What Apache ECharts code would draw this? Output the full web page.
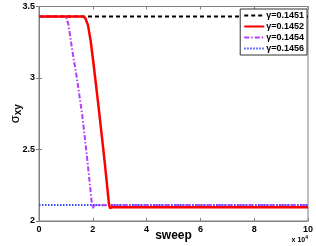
<!DOCTYPE html>
<html><head><meta charset="utf-8">
<script src="https://cdn.jsdelivr.net/npm/echarts@6/dist/echarts.min.js"></script>
<style>html,body{margin:0;padding:0;background:#fff}#c{width:316px;height:246px}</style>
</head><body><div id="c"></div>
<script>
// x in units of 10^4 sweeps
const names = ['γ=0.1451','γ=0.1452','γ=0.1454','γ=0.1456'];
const s1451 = [[0,3.43],[10,3.43]];
const s1452 = [[0,3.43],[1.62,3.43],[1.72,3.42],[1.82,3.37],[1.92,3.26],[2.02,3.11],[2.12,2.95],[2.22,2.79],[2.32,2.62],[2.42,2.45],[2.52,2.27],[2.6,2.12],[2.64,2.09],[2.72,2.097],[10,2.097]];
const s1454 = [[0,3.43],[1.0,3.43],[1.1,3.37],[1.2,3.24],[1.3,3.12],[1.4,3.01],[1.5,2.88],[1.6,2.75],[1.7,2.59],[1.8,2.42],[1.9,2.24],[1.97,2.11],[2.0,2.09],[2.05,2.11],[10,2.11]];
const s1456 = [[0,2.112],[10,2.112]];
const xTicks = [0,2,4,6,8,10];
const yTicks = [2,2.5,3,3.5];

const chart = echarts.init(document.getElementById('c'));
const FONT = '"Liberation Sans", Arial, sans-serif';
const grid = {left:39, right:8, top:6.5, bottom:25};
function series(name, data, color, type, width){
  return {name, type:'line', data, symbol:'none', showSymbol:false, animation:false,
    lineStyle:{color, type, width}, itemStyle:{color}, xAxisIndex:0, yAxisIndex:0};
}
chart.setOption({
  animation:false,
  grid: Object.assign({show:true, borderColor:'#808080', borderWidth:1, backgroundColor:'#fff', containLabel:false, outerBoundsMode:'none'}, grid),
  legend:{
    right:9, top:9, orient:'vertical', itemGap:2, itemWidth:20, itemHeight:10,
    backgroundColor:'#fff', borderColor:'#333', borderWidth:1, padding:[2,3,2,3],
    itemStyle:{opacity:0},
    textStyle:{fontFamily:FONT, fontSize:9, fontWeight:'bold', color:'#000', padding:[0,0,0,-3]},
    data:names
  },
  xAxis:[{
    type:'value', min:0, max:10, interval:2,
    name:'sweep', nameLocation:'middle', nameGap:9, nameMoveOverlap:false,
    nameTextStyle:{fontFamily:FONT, fontSize:12, fontWeight:'bold', color:'#000'},
    axisLine:{show:true, lineStyle:{color:'#808080'}},
    axisTick:{show:true, inside:true, length:3, lineStyle:{color:'#808080'}},
    axisLabel:{fontFamily:FONT, fontSize:9, fontWeight:'bold', color:'#000', margin:4,
      formatter:v=>xTicks.includes(v)?String(v):''},
    splitLine:{show:false}
  },{
    type:'value', min:0, max:10, interval:2, position:'top',
    axisLine:{show:true, lineStyle:{color:'#808080'}},
    axisTick:{show:true, inside:true, length:3, lineStyle:{color:'#808080'}},
    axisLabel:{show:false}, splitLine:{show:false}
  }],
  yAxis:[{
    type:'value', min:2, max:3.5, interval:0.5,
    name:'σ{sub|xy}', nameLocation:'middle', nameGap:16, nameRotate:90, nameMoveOverlap:false,
    nameTextStyle:{fontFamily:FONT, fontSize:13, color:'#000',
      rich:{sub:{fontFamily:FONT, fontSize:10, fontWeight:'bold', color:'#000', verticalAlign:'bottom', padding:[6,0,0,0]}}},
    axisLine:{show:true, lineStyle:{color:'#808080'}},
    axisTick:{show:true, inside:true, length:3, lineStyle:{color:'#808080'}},
    axisLabel:{fontFamily:FONT, fontSize:9, fontWeight:'bold', color:'#000', margin:4,
      formatter:v=>yTicks.includes(v)?String(v):''},
    splitLine:{show:false}
  },{
    type:'value', min:2, max:3.5, interval:0.5, position:'right',
    axisLine:{show:true, lineStyle:{color:'#808080'}},
    axisTick:{show:true, inside:true, length:3, lineStyle:{color:'#808080'}},
    axisLabel:{show:false}, splitLine:{show:false}
  }],
  graphic:[{
    type:'text', right:8, bottom:2,
    style:{text:'x 10{sup|4}', fontFamily:FONT, fontSize:7, fontWeight:'bold', fill:'#000',
      rich:{sup:{fontSize:5, fontWeight:'bold', verticalAlign:'top', padding:[0,0,5,0]}}}
  }],
  series:[
    series(names[3], s1456, '#3a4cff', [1.5,1.5], 2),
    series(names[0], s1451, '#000000', [4,3], 2),
    series(names[2], s1454, '#b23cff', [5,2,1.5,2], 2),
    series(names[1], s1452, '#ff0000', 'solid', 2.5)
  ]
});
</script></body></html>
